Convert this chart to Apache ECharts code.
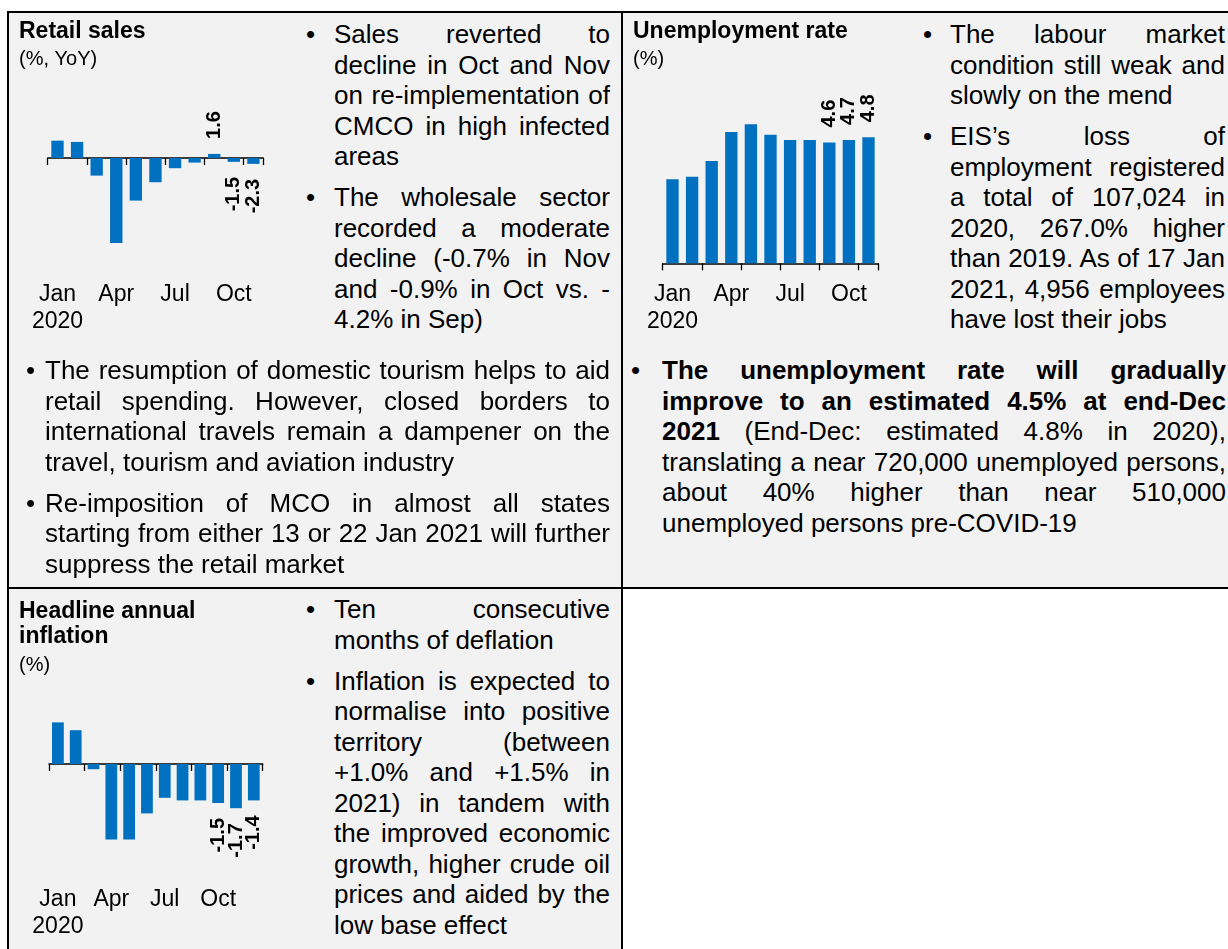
<!DOCTYPE html>
<html>
<head>
<meta charset="utf-8">
<title>Retail sales, unemployment and inflation 2020</title>
<script src="https://cdn.jsdelivr.net/npm/echarts@6/dist/echarts.min.js"></script>
<style>
  body {
    margin: 0;
    width: 1228px;
    height: 949px;
    position: relative;
    overflow: hidden;
    background: #fff;
    font-family: "Liberation Sans", Arial, sans-serif;
    color: #000;
  }
  .shade { position: absolute; background: #f2f2f2; }
  .rule { position: absolute; background: #000; }
  .chart { position: absolute; }

  /* bullet notes, one div per printed line so the breaks match the page */
  .note { position: absolute; font-size: 26px; line-height: 30.5px; }
  .note p { position: relative; margin: 0 0 10.5px 0; }
  .note .ln { display: block; white-space: nowrap; text-align: justify; text-align-last: justify; }
  .note .ln:last-child { text-align-last: left; }
  .note .dot { position: absolute; top: 0; }
</style>
</head>
<body>

<!-- table shading and borders -->
<div class="shade" style="left:9px;top:13px;width:1219px;height:574px"></div>
<div class="shade" style="left:9px;top:589px;width:612px;height:360px"></div>
<div class="rule" style="left:7px;top:11px;width:1221px;height:2px"></div>
<div class="rule" style="left:7px;top:11px;width:2px;height:938px"></div>
<div class="rule" style="left:621px;top:11px;width:2px;height:938px"></div>
<div class="rule" style="left:7px;top:587px;width:1221px;height:2px"></div>

<!-- charts -->
<div id="retail" class="chart" style="left:8px;top:12px;width:280px;height:323px"></div>
<div id="unemp" class="chart" style="left:623px;top:12px;width:280px;height:323px"></div>
<div id="cpi" class="chart" style="left:8px;top:589px;width:280px;height:360px"></div>

<!-- notes beside the retail chart -->
<div class="note" style="left:334px;top:19px;width:276px">
  <p><span class="dot" style="left:-28px">•</span>
    <span class="ln">Sales reverted to</span>
    <span class="ln">decline in Oct and Nov</span>
    <span class="ln">on re-implementation of</span>
    <span class="ln">CMCO in high infected</span>
    <span class="ln">areas</span></p>
  <p><span class="dot" style="left:-28px">•</span>
    <span class="ln">The wholesale sector</span>
    <span class="ln">recorded a moderate</span>
    <span class="ln">decline (-0.7% in Nov</span>
    <span class="ln">and -0.9% in Oct vs. -</span>
    <span class="ln">4.2% in Sep)</span></p>
</div>

<!-- notes beside the unemployment chart -->
<div class="note" style="left:950px;top:19px;width:275px">
  <p><span class="dot" style="left:-27px">•</span>
    <span class="ln">The labour market</span>
    <span class="ln">condition still weak and</span>
    <span class="ln">slowly on the mend</span></p>
  <p><span class="dot" style="left:-27px">•</span>
    <span class="ln">EIS’s loss of</span>
    <span class="ln">employment registered</span>
    <span class="ln">a total of 107,024 in</span>
    <span class="ln">2020, 267.0% higher</span>
    <span class="ln">than 2019. As of 17 Jan</span>
    <span class="ln">2021, 4,956 employees</span>
    <span class="ln">have lost their jobs</span></p>
</div>

<!-- retail outlook -->
<div class="note" style="left:45px;top:355px;width:565px">
  <p><span class="dot" style="left:-19px">•</span>
    <span class="ln">The resumption of domestic tourism helps to aid</span>
    <span class="ln">retail spending. However, closed borders to</span>
    <span class="ln">international travels remain a dampener on the</span>
    <span class="ln">travel, tourism and aviation industry</span></p>
  <p><span class="dot" style="left:-19px">•</span>
    <span class="ln">Re-imposition of MCO in almost all states</span>
    <span class="ln">starting from either 13 or 22 Jan 2021 will further</span>
    <span class="ln">suppress the retail market</span></p>
</div>

<!-- unemployment outlook -->
<div class="note" style="left:662px;top:355px;width:564px">
  <p><span class="dot" style="left:-31px">•</span>
    <span class="ln"><b>The unemployment rate will gradually</b></span>
    <span class="ln"><b>improve to an estimated 4.5% at end-Dec</b></span>
    <span class="ln"><b>2021</b> (End-Dec: estimated 4.8% in 2020),</span>
    <span class="ln">translating a near 720,000 unemployed persons,</span>
    <span class="ln">about 40% higher than near 510,000</span>
    <span class="ln">unemployed persons pre-COVID-19</span></p>
</div>

<!-- notes beside the inflation chart -->
<div class="note" style="left:334px;top:594px;width:276px">
  <p><span class="dot" style="left:-28px">•</span>
    <span class="ln">Ten consecutive</span>
    <span class="ln">months of deflation</span></p>
  <p><span class="dot" style="left:-28px">•</span>
    <span class="ln">Inflation is expected to</span>
    <span class="ln">normalise into positive</span>
    <span class="ln">territory (between</span>
    <span class="ln">+1.0% and +1.5% in</span>
    <span class="ln">2021) in tandem with</span>
    <span class="ln">the improved economic</span>
    <span class="ln">growth, higher crude oil</span>
    <span class="ln">prices and aided by the</span>
    <span class="ln">low base effect</span></p>
</div>

<script>
// data, 2020
const yearLabel = '2020';

const retailMonths = ['Jan', 'Feb', 'Mar', 'Apr', 'May', 'Jun', 'Jul', 'Aug', 'Sep', 'Oct', 'Nov'];
const retailSales = [6.8, 6.3, -6.9, -33.3, -16.7, -9.5, -4.0, -1.8, 1.6, -1.5, -2.3];
const retailLabelled = ['Sep', 'Oct', 'Nov'];

const unempMonths = ['Jan', 'Feb', 'Mar', 'Apr', 'May', 'Jun', 'Jul', 'Aug', 'Sep', 'Oct', 'Nov'];
const unempRate = [3.2, 3.3, 3.9, 5.0, 5.3, 4.9, 4.7, 4.7, 4.6, 4.7, 4.8];
const unempLabelled = ['Sep', 'Oct', 'Nov'];

const cpiMonths = ['Jan', 'Feb', 'Mar', 'Apr', 'May', 'Jun', 'Jul', 'Aug', 'Sep', 'Oct', 'Nov', 'Dec'];
const cpiInflation = [1.6, 1.3, -0.2, -2.9, -2.9, -1.9, -1.3, -1.4, -1.4, -1.5, -1.7, -1.4];
const cpiLabelled = ['Oct', 'Nov', 'Dec'];

const FONT = '"Liberation Sans", Arial, sans-serif';
const BLUE = '#0070c0';

// one small bar chart: bars sit on the zero line, month names sit at the foot
const buildOption = (cfg) => {
  const labelled = new Set(cfg.labelled);
  const items = cfg.values.map((v, i) => ({
    value: v,
    label: {
      show: labelled.has(cfg.months[i]),
      position: v >= 0 ? 'top' : 'bottom',
      align: v >= 0 ? 'left' : 'right'
    }
  }));

  return {
    animation: false,
    textStyle: { fontFamily: FONT },
    title: {
      text: cfg.title,
      subtext: cfg.unit,
      left: cfg.titleLeft,
      top: cfg.titleTop,
      padding: 0,
      itemGap: cfg.titleGap,
      textStyle: { fontFamily: FONT, fontSize: 23, fontWeight: 'bold', color: '#000', lineHeight: 25 },
      subtextStyle: { fontFamily: FONT, fontSize: 20, color: '#000', lineHeight: 22 }
    },
    grid: [
      { left: cfg.left, width: cfg.width, top: cfg.top, height: cfg.height },
      // second grid only carries the month labels at the bottom
      { left: cfg.left, width: cfg.width, top: 10, height: cfg.labelBase - 10 }
    ],
    xAxis: [
      {
        gridIndex: 0,
        type: 'category',
        data: cfg.months,
        axisLine: { onZero: true, lineStyle: { color: '#000', width: 1.5 } },
        axisTick: { show: true, length: 7, lineStyle: { color: '#000', width: 1.3 } },
        axisLabel: { show: false },
        splitLine: { show: false }
      },
      {
        gridIndex: 1,
        type: 'category',
        data: cfg.months,
        axisLine: { show: false },
        axisTick: { show: false },
        axisLabel: {
          interval: 2,
          margin: 9,
          fontFamily: FONT,
          fontSize: 23,
          lineHeight: 27,
          color: '#000',
          formatter: (v, i) => (i === 0 ? v + '\n' + yearLabel : v)
        }
      }
    ],
    yAxis: [
      { gridIndex: 0, type: 'value', min: cfg.yMin, max: cfg.yMax, show: false },
      { gridIndex: 1, type: 'value', min: 0, max: 1, show: false }
    ],
    series: [
      {
        type: 'bar',
        xAxisIndex: 0,
        yAxisIndex: 0,
        data: items,
        barWidth: cfg.barWidth,
        itemStyle: { color: BLUE },
        label: {
          rotate: 90,
          verticalAlign: 'middle',
          distance: 15,
          fontFamily: FONT,
          fontSize: 20,
          fontWeight: 'bold',
          color: '#000',
          formatter: (p) => p.value.toFixed(1)
        }
      }
    ]
  };
};

const charts = [
  ['retail', {
    title: 'Retail sales', unit: '(%, YoY)',
    titleLeft: 11, titleTop: 7.5, titleGap: 3.5,
    months: retailMonths, values: retailSales, labelled: retailLabelled,
    left: 39.7, width: 215.5, top: 120.5, height: 127.5, yMin: -40, yMax: 10,
    labelBase: 260, barWidth: '63%'
  }],
  ['unemp', {
    title: 'Unemployment rate', unit: '(%)',
    titleLeft: 10, titleTop: 7.5, titleGap: 3.5,
    months: unempMonths, values: unempRate, labelled: unempLabelled,
    left: 39.7, width: 215.6, top: 93.8, height: 157.5, yMin: 0, yMax: 6,
    labelBase: 260, barWidth: '63%'
  }],
  ['cpi', {
    title: 'Headline annual\ninflation', unit: '(%)',
    titleLeft: 11, titleTop: 10.5, titleGap: 4.5,
    months: cpiMonths, values: cpiInflation, labelled: cpiLabelled,
    left: 41, width: 213.7, top: 123, height: 156, yMin: -4, yMax: 2,
    labelBase: 288, barWidth: '66%'
  }]
];

charts.forEach(([id, cfg]) => {
  const chart = echarts.init(document.getElementById(id), null, { renderer: 'canvas' });
  chart.setOption(buildOption(cfg));
});
</script>
</body>
</html>
